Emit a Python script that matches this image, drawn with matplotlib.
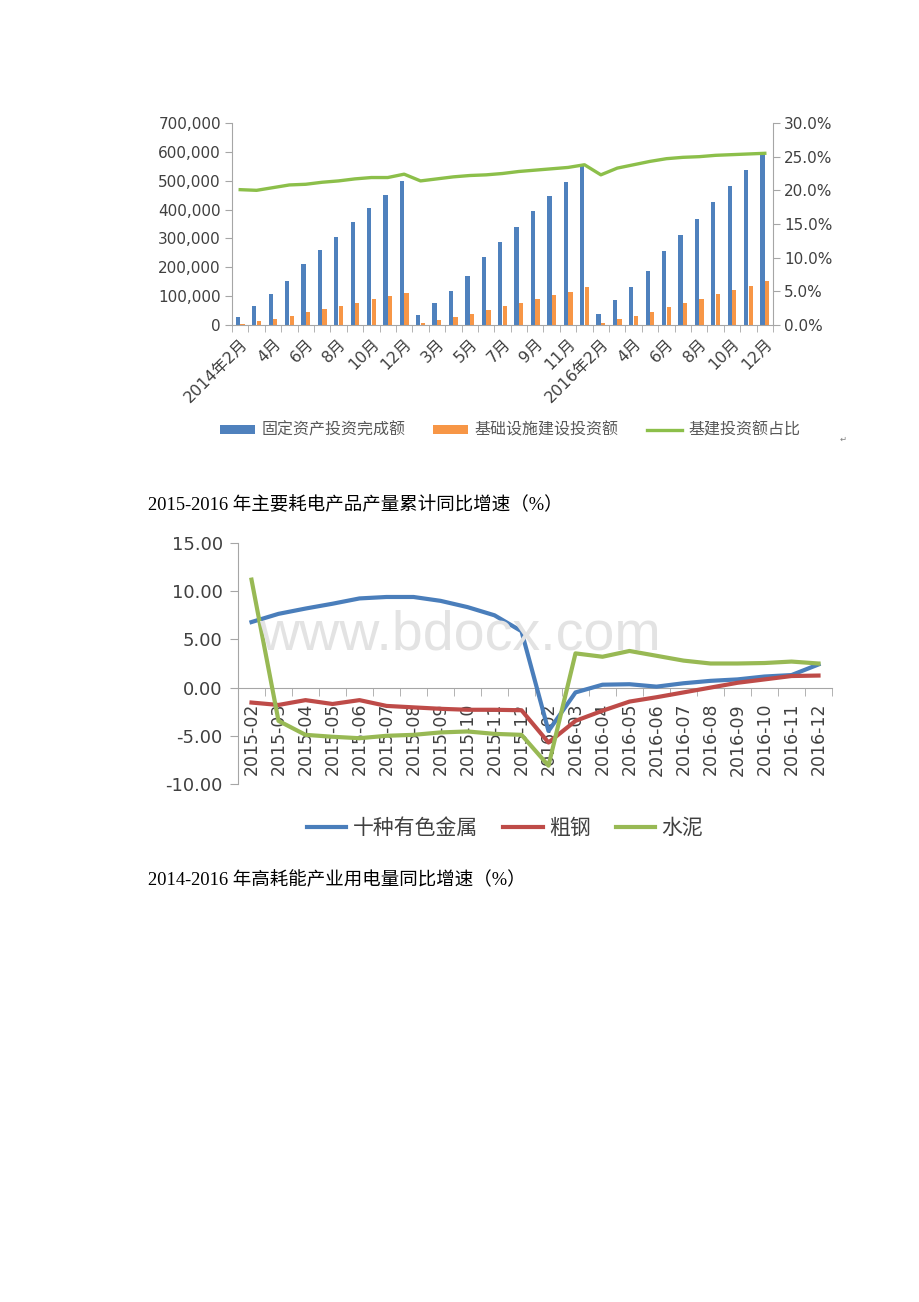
import numpy as np
import matplotlib
matplotlib.use("Agg")
import matplotlib.pyplot as plt
from matplotlib.ticker import FuncFormatter, FixedLocator

plt.rcParams['font.family'] = ['DejaVu Sans', 'Noto Sans CJK SC']

# ---- chart 1: fixed asset investment vs infrastructure investment ----
month_labels = []
for year in (2014, 2015, 2016):
    for m in range(2, 13):
        month_labels.append(f"{year}年{m}月" if m == 2 else f"{m}月")

fixed_inv = [29000, 67000, 106000, 152000, 211000, 259000, 305000, 356000, 404000, 450000, 500000,
             33000, 76000, 118000, 169000, 236000, 287000, 338000, 394000, 446000, 497000, 551000,
             37000, 86000, 131000, 187000, 257000, 311000, 366000, 427000, 483000, 537000, 595000]
infra_inv = [5000, 14000, 22000, 32000, 45000, 56000, 65000, 77000, 89000, 99000, 112000,
             7000, 17000, 26000, 38000, 51000, 65000, 77000, 91000, 103000, 114000, 131000,
             7000, 21000, 30000, 44000, 63000, 77000, 91000, 107000, 121000, 135000, 152000]
infra_ratio = [20.1, 20.0, 20.4, 20.8, 20.9, 21.2, 21.4, 21.7, 21.9, 21.9, 22.4,
               21.4, 21.7, 22.0, 22.2, 22.3, 22.5, 22.8, 23.0, 23.2, 23.4, 23.8,
               22.3, 23.3, 23.8, 24.3, 24.7, 24.9, 25.0, 25.2, 25.3, 25.4, 25.5]

# ---- chart 2: output growth of power-intensive products ----
period_labels = [f"2015-{m:02d}" for m in range(2, 13)] + [f"2016-{m:02d}" for m in range(2, 13)]
nonferrous = [6.8, 7.65, 8.2, 8.7, 9.25, 9.4, 9.4, 9.0, 8.35, 7.5, 5.85,
              -4.5, -0.5, 0.3, 0.35, 0.1, 0.45, 0.7, 0.85, 1.15, 1.3, 2.4]
crude_steel = [-1.55, -1.8, -1.3, -1.7, -1.3, -1.9, -2.05, -2.2, -2.3, -2.3, -2.35,
               -5.7, -3.45, -2.4, -1.45, -1.0, -0.5, 0.0, 0.5, 0.85, 1.2, 1.25]
cement = [11.2, -3.45, -4.9, -5.1, -5.25, -5.0, -4.9, -4.65, -4.55, -4.8, -4.9,
          -8.1, 3.55, 3.2, 3.8, 3.3, 2.8, 2.5, 2.5, 2.55, 2.7, 2.5]

W, H = 920, 1302
fig = plt.figure(figsize=(W / 100, H / 100), dpi=100)
fig.patch.set_facecolor('white')

def box(left, top, right, bottom):
    return [left / W, 1 - bottom / H, (right - left) / W, (bottom - top) / H]

axis_gray = '#A6A6A6'
text_gray = '#404040'

# ===== chart 1 =====
ax1 = fig.add_axes(box(232, 123, 773, 325))
x1 = np.arange(len(month_labels))
ax1.bar(x1 - 0.14, fixed_inv, width=0.26, color='#4F81BD', label='固定资产投资完成额', zorder=2)
ax1.bar(x1 + 0.14, infra_inv, width=0.26, color='#F79646', label='基础设施建设投资额', zorder=2)
ax1.set_xlim(-0.5, len(month_labels) - 0.5)
ax1.set_ylim(0, 700000)
ax1.set_yticks(np.arange(0, 700001, 100000))
ax1.yaxis.set_major_formatter(FuncFormatter(lambda v, p: f"{int(v):,}"))
ax1.set_xticks(x1[::2])
ax1.set_xticklabels(month_labels[::2], rotation=45, ha='right', rotation_mode='anchor')
ax1.xaxis.set_minor_locator(FixedLocator(np.arange(-0.5, len(month_labels), 1.0)))
ax1.tick_params(axis='x', which='major', length=0, pad=8, labelsize=11.5, labelcolor=text_gray)
ax1.tick_params(axis='x', which='minor', length=5, color=axis_gray)
ax1.tick_params(axis='y', length=5, color=axis_gray, labelsize=11, labelcolor=text_gray, pad=3)
for s in ('top', 'right'):
    ax1.spines[s].set_visible(False)
for s in ('left', 'bottom'):
    ax1.spines[s].set_color(axis_gray)

ax1r = ax1.twinx()
ax1r.plot(x1, infra_ratio, color='#8CBF4A', linewidth=2.4, label='基建投资额占比', zorder=3)
ax1r.set_ylim(0, 30)
ax1r.set_yticks(np.arange(0, 31, 5))
ax1r.yaxis.set_major_formatter(FuncFormatter(lambda v, p: f"{v:.1f}%"))
ax1r.tick_params(axis='y', length=5, color=axis_gray, labelsize=11, labelcolor=text_gray, pad=3)
for s in ('top', 'left', 'bottom'):
    ax1r.spines[s].set_visible(False)
ax1r.spines['right'].set_color(axis_gray)

h1, l1 = ax1.get_legend_handles_labels()
h2, l2 = ax1r.get_legend_handles_labels()
leg1 = fig.legend(h1 + h2, l1 + l2, loc='center', bbox_to_anchor=(510 / W, 1 - 430 / H),
                  ncol=3, frameon=False, fontsize=11.5, handlelength=2.2, handleheight=0.5,
                  columnspacing=1.75, handletextpad=0.4)
for t in leg1.get_texts():
    t.set_color('#595959')

fig.text(843 / W, 1 - 439 / H, '↵', fontsize=6, color='#808080', ha='center', va='center')

# ===== captions =====
serif_fam = ['Liberation Serif', 'Noto Sans CJK SC']
fig.text(148 / W, 1 - 505 / H, '2015-2016 年主要耗电产品产量累计同比增速（%）',
         fontsize=13.3, family=serif_fam, color='black', ha='left', va='center')
fig.text(148 / W, 1 - 880 / H, '2014-2016 年高耗能产业用电量同比增速（%）',
         fontsize=13.3, family=serif_fam, color='black', ha='left', va='center')

# ===== chart 2 =====
ax2 = fig.add_axes(box(238, 543, 832, 784))
ax2.patch.set_alpha(0)
fig.text(460 / W, 1 - 636 / H, 'www.bdocx.com', fontsize=40, family='Liberation Sans',
         color='#E3E3E3', ha='center', va='center', zorder=0)
x2 = np.arange(len(period_labels))
l_nf, = ax2.plot(x2, nonferrous, color='#4A7EBB', linewidth=3, label='十种有色金属', zorder=3)
l_st, = ax2.plot(x2, crude_steel, color='#BE4B48', linewidth=3, label='粗钢', zorder=3)
l_ce, = ax2.plot(x2, cement, color='#98B954', linewidth=3, label='水泥', zorder=3)
ax2.spines['bottom'].set_position(('data', 0))
for s in ('top', 'right'):
    ax2.spines[s].set_visible(False)
for s in ('left', 'bottom'):
    ax2.spines[s].set_color(axis_gray)
ax2.set_xlim(-0.5, len(period_labels) - 0.5)
ax2.set_ylim(-10, 15)
ax2.set_yticks(np.arange(-10, 16, 5))
ax2.yaxis.set_major_formatter(FuncFormatter(lambda v, p: f"{v:.2f}"))
ax2.set_xticks(x2)
ax2.set_xticklabels(period_labels, rotation=90, va='top')
ax2.xaxis.set_minor_locator(FixedLocator(np.arange(-0.5, len(period_labels), 1.0)))
ax2.tick_params(axis='x', which='major', length=0, pad=11, labelsize=12.5, labelcolor=text_gray)
ax2.tick_params(axis='x', which='minor', length=6, color=axis_gray)
ax2.tick_params(axis='y', length=6, color=axis_gray, labelsize=13, labelcolor=text_gray, pad=5)

leg2 = fig.legend([l_nf, l_st, l_ce], ['十种有色金属', '粗钢', '水泥'], loc='center',
                  bbox_to_anchor=(505 / W, 1 - 828 / H), ncol=3, frameon=False,
                  fontsize=15, handlelength=1.9, columnspacing=1.2, handletextpad=0.3)
for t in leg2.get_texts():
    t.set_color(text_gray)

fig.savefig('out.png', dpi=100, facecolor='white')
